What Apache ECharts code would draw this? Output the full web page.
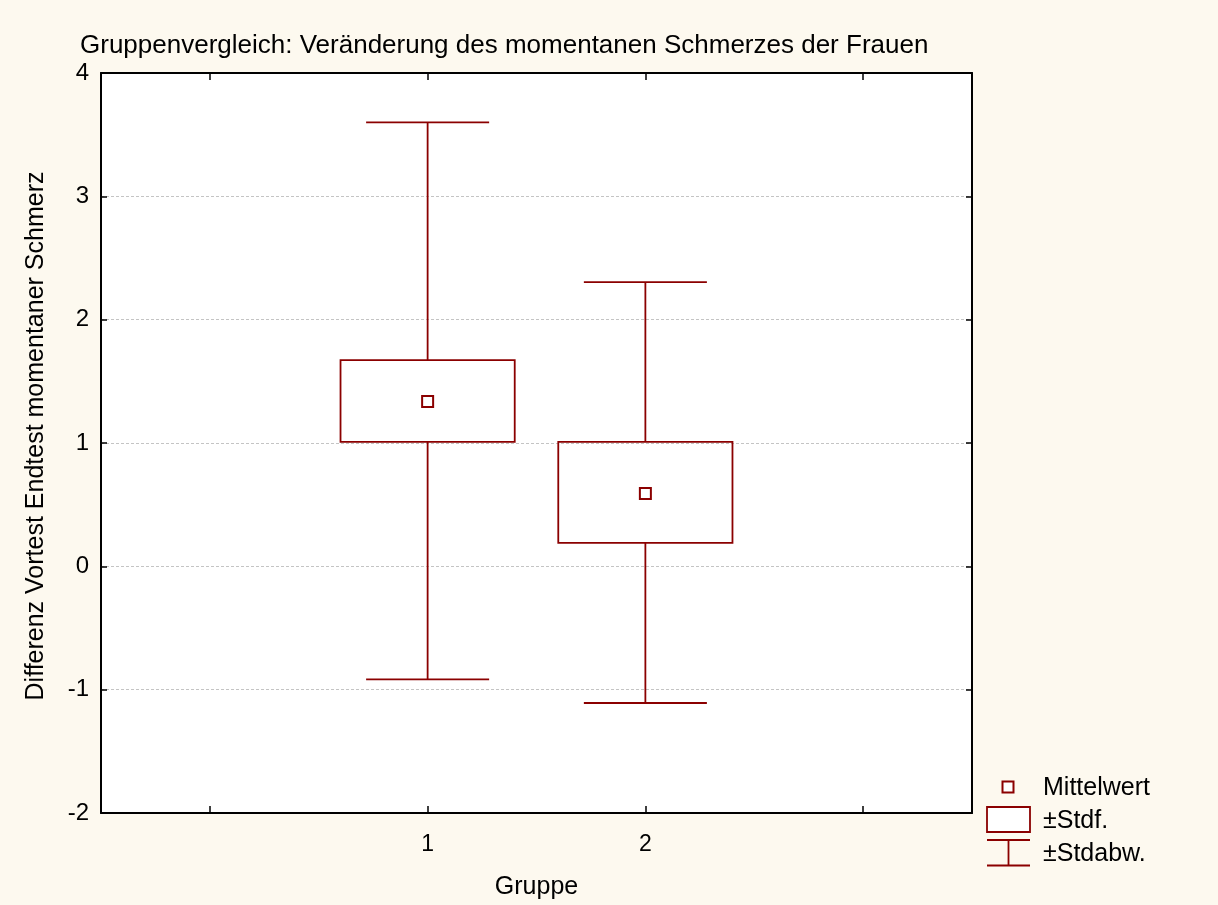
<!DOCTYPE html>
<html>
<head>
<meta charset="utf-8">
<script src="https://cdn.jsdelivr.net/npm/echarts@6/dist/echarts.min.js"></script>
<style>
html,body{margin:0;padding:0;background:#fdf9ef;}
#chart{width:1218px;height:905px;}
</style>
</head>
<body>
<div id="chart"></div>
<script>
// ---- data ----
const categories = ['', '1', '2', ' '];
const groups = ['1', '2'];
const means = [1.337, 0.590];
const seLow = [1.009, 0.190];
const seHigh = [1.672, 1.009];
const sdLow = [-0.916, -1.108];
const sdHigh = [3.600, 2.304];
const yTicks = [-2, -1, 0, 1, 2, 3, 4];

const titleText = 'Gruppenvergleich: Veränderung des momentanen Schmerzes der Frauen';
const xName = 'Gruppe';
const yName = 'Differenz Vortest Endtest momentaner Schmerz';
const legendLabels = ['Mittelwert', '±Stdf.', '±Stdabw.'];

const RED = '#8b0000';
const FONT = '"Liberation Sans", Arial, sans-serif';

const seriesData = groups.map((g, i) => [g, means[i], seLow[i], seHigh[i], sdLow[i], sdHigh[i]]);

function renderItem(params, api) {
  const x = api.value(0);
  const band = api.size([1, 0])[0];
  const boxW = band * 0.8;
  const capW = band * 0.565;
  const pm = api.coord([x, api.value(1)]);
  const pl = api.coord([x, api.value(2)]);
  const ph = api.coord([x, api.value(3)]);
  const pdl = api.coord([x, api.value(4)]);
  const pdh = api.coord([x, api.value(5)]);
  const cx = pm[0];
  const ls = {stroke: RED, lineWidth: 1.8, fill: null};
  const ms = 11;
  return {
    type: 'group',
    children: [
      {type: 'line', shape: {x1: cx, y1: pdh[1], x2: cx, y2: ph[1]}, style: ls},
      {type: 'line', shape: {x1: cx, y1: pl[1], x2: cx, y2: pdl[1]}, style: ls},
      {type: 'line', shape: {x1: cx - capW / 2, y1: pdh[1], x2: cx + capW / 2, y2: pdh[1]}, style: ls},
      {type: 'line', shape: {x1: cx - capW / 2, y1: pdl[1], x2: cx + capW / 2, y2: pdl[1]}, style: ls},
      {type: 'rect', shape: {x: cx - boxW / 2, y: ph[1], width: boxW, height: pl[1] - ph[1]}, style: {stroke: RED, lineWidth: 1.8, fill: 'none'}},
      {type: 'rect', shape: {x: cx - ms / 2, y: pm[1] - ms / 2, width: ms, height: ms}, style: {stroke: RED, lineWidth: 2, fill: '#fff'}}
    ]
  };
}

const chart = echarts.init(document.getElementById('chart'), null, {renderer: 'canvas'});

const legendX = 987, legendTextX = 1043;
const legendGraphic = [
  {type: 'rect', shape: {x: 1002.5, y: 781.5, width: 11, height: 11}, style: {stroke: RED, lineWidth: 2, fill: '#fff'}},
  {type: 'rect', shape: {x: legendX, y: 807, width: 43, height: 25}, style: {stroke: RED, lineWidth: 1.8, fill: '#fff'}},
  {type: 'line', shape: {x1: legendX, y1: 840, x2: legendX + 43, y2: 840}, style: {stroke: RED, lineWidth: 1.8}},
  {type: 'line', shape: {x1: legendX, y1: 865.5, x2: legendX + 43, y2: 865.5}, style: {stroke: RED, lineWidth: 1.8}},
  {type: 'line', shape: {x1: 1008.5, y1: 840, x2: 1008.5, y2: 865.5}, style: {stroke: RED, lineWidth: 1.8}},
  {type: 'text', x: legendTextX, y: 788, style: {text: legendLabels[0], font: '25px ' + FONT, fill: '#000', textVerticalAlign: 'middle'}},
  {type: 'text', x: legendTextX, y: 821, style: {text: legendLabels[1], font: '25px ' + FONT, fill: '#000', textVerticalAlign: 'middle'}},
  {type: 'text', x: legendTextX, y: 854, style: {text: legendLabels[2], font: '25px ' + FONT, fill: '#000', textVerticalAlign: 'middle'}},
  {type: 'text', x: 36, y: 436, rotation: Math.PI / 2, style: {text: yName, font: '25px ' + FONT, fill: '#000', textAlign: 'center', textVerticalAlign: 'middle'}}
];

const axisLine = {show: true, onZero: false, lineStyle: {color: '#000', width: 2}};

chart.setOption({
  backgroundColor: '#fdf9ef',
  animation: false,
  title: {
    text: titleText, left: 75, top: 28,
    textStyle: {fontFamily: FONT, fontSize: 26, fontWeight: 'normal', color: '#000'}
  },
  grid: {left: 101, right: 246, top: 73, bottom: 92, show: true, backgroundColor: '#fff', borderWidth: 0},
  xAxis: [
    {
      type: 'category', data: categories, position: 'bottom', boundaryGap: true,
      axisLine: axisLine,
      axisTick: {show: true, inside: true, length: 7, alignWithLabel: true, lineStyle: {color: '#000', width: 1.5}},
      axisLabel: {show: true, margin: 20, fontFamily: FONT, fontSize: 23, color: '#000'},
      splitLine: {show: false},
      name: xName, nameLocation: 'middle', nameGap: 62,
      nameTextStyle: {fontFamily: FONT, fontSize: 25, color: '#000'}
    },
    {
      type: 'category', data: categories, position: 'top', boundaryGap: true,
      axisLine: axisLine,
      axisTick: {show: true, inside: true, length: 7, alignWithLabel: true, lineStyle: {color: '#000', width: 1.5}},
      axisLabel: {show: false},
      splitLine: {show: false}
    }
  ],
  yAxis: [
    {
      type: 'value', min: -2, max: 4, interval: 1, position: 'left',
      axisLine: axisLine,
      axisTick: {show: true, inside: true, length: 6, lineStyle: {color: '#000', width: 1.5}},
      axisLabel: {show: true, margin: 12, fontFamily: FONT, fontSize: 24, color: '#000',
        padding: [9, 0, 0, 0],
        formatter: v => yTicks.includes(v) ? String(v) : ''},
      splitLine: {show: true, lineStyle: {color: '#c4c4c4', width: 1, type: [3, 2]}}
    },
    {
      type: 'value', min: -2, max: 4, interval: 1, position: 'right',
      axisLine: axisLine,
      axisTick: {show: true, inside: true, length: 6, lineStyle: {color: '#000', width: 1.5}},
      axisLabel: {show: false},
      splitLine: {show: false}
    }
  ],
  series: [{
    type: 'custom',
    xAxisIndex: 0, yAxisIndex: 0,
    renderItem: renderItem,
    encode: {x: 0, y: [1, 2, 3, 4, 5]},
    data: seriesData,
    z: 5
  }],
  graphic: legendGraphic
});
</script>
</body>
</html>
